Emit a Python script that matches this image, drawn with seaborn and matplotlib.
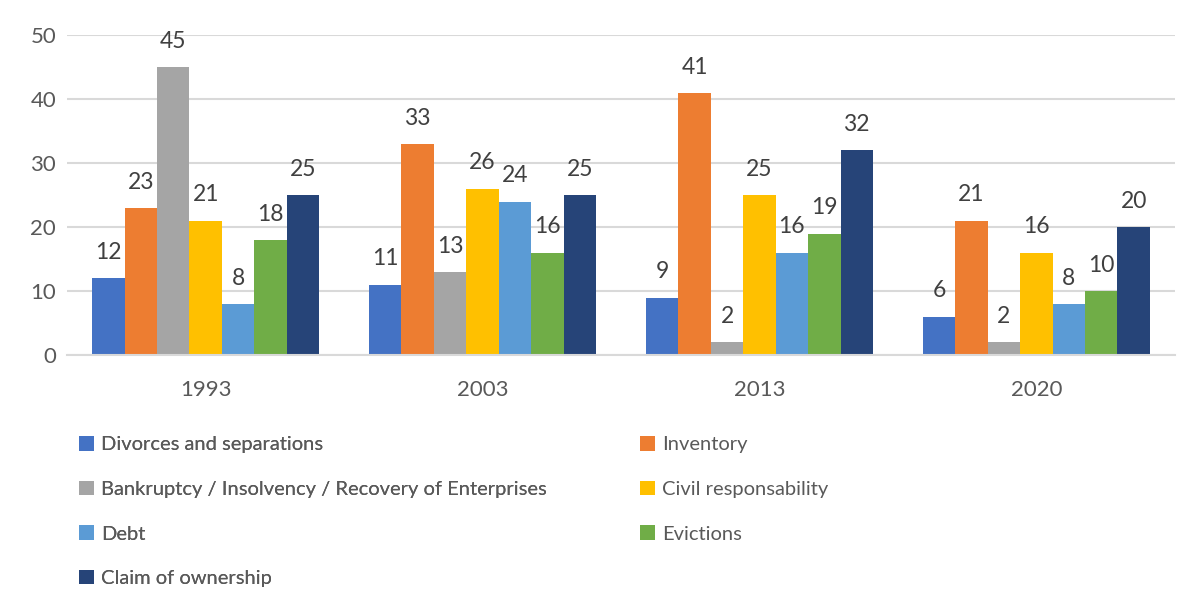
import matplotlib
matplotlib.use("Agg")
import matplotlib.pyplot as plt
import seaborn as sns
import pandas as pd
from matplotlib.patches import Patch

years = ["1993", "2003", "2013", "2020"]
categories = [
    "Divorces and separations",
    "Inventory",
    "Bankruptcy / Insolvency / Recovery of Enterprises",
    "Civil responsability",
    "Debt",
    "Evictions",
    "Claim of ownership",
]
divorces = [12, 11, 9, 6]
inventory = [23, 33, 41, 21]
bankruptcy = [45, 13, 2, 2]
civil = [21, 26, 25, 16]
debt = [8, 24, 16, 8]
evictions = [18, 16, 19, 10]
claim = [25, 25, 32, 20]
series = [divorces, inventory, bankruptcy, civil, debt, evictions, claim]
colors = ["#4472C4", "#ED7D31", "#A5A5A5", "#FFC000", "#5B9BD5", "#70AD47", "#264478"]

rows = []
for cat, vals in zip(categories, series):
    for y, v in zip(years, vals):
        rows.append({"year": y, "category": cat, "value": v})
df = pd.DataFrame(rows)

sns.set_style("white")
plt.rcParams["font.family"] = ["Lato", "DejaVu Sans"]

fig = plt.figure(figsize=(12, 6.08), dpi=100)
ax = fig.add_axes([0.056, 0.416, 0.923, 0.526])

sns.barplot(data=df, x="year", y="value", hue="category", order=years,
            hue_order=categories, palette=colors, width=0.82, saturation=1,
            linewidth=0, ax=ax, legend=False, errorbar=None)

for cont in ax.containers:
    ax.bar_label(cont, padding=11, fontsize=16.5, color="#404040")

ax.set_ylim(0, 50)
ax.set_yticks([0, 10, 20, 30, 40, 50])
ax.yaxis.grid(True, color="#D9D9D9", linewidth=1.5)
ax.set_axisbelow(True)
for s in ["top", "right", "left"]:
    ax.spines[s].set_visible(False)
ax.spines["bottom"].set_color("#D9D9D9")
ax.spines["bottom"].set_linewidth(1.5)
ax.tick_params(axis="both", length=0, labelsize=16, labelcolor="#595959")
ax.tick_params(axis="x", pad=18)
ax.tick_params(axis="y", pad=8)
ax.set_xlabel("")
ax.set_ylabel("")

handles = [Patch(facecolor=c, edgecolor="none") for c in colors]
left_idx = [0, 2, 4, 6]
right_idx = [1, 3, 5]
leg_kw = dict(frameon=False, fontsize=14.5, labelcolor="#595959", handlelength=0.75,
              handleheight=0.75, handletextpad=0.35, labelspacing=1.35, borderaxespad=0,
              borderpad=0)
leg1 = fig.legend([handles[i] for i in left_idx], [categories[i] for i in left_idx],
                  loc="upper left", bbox_to_anchor=(0.066, 0.283), **leg_kw)
fig.add_artist(leg1)
leg2 = fig.legend([handles[i] for i in right_idx], [categories[i] for i in right_idx],
                  loc="upper left", bbox_to_anchor=(0.533, 0.283), **leg_kw)

fig.savefig("out.png", dpi=100)
